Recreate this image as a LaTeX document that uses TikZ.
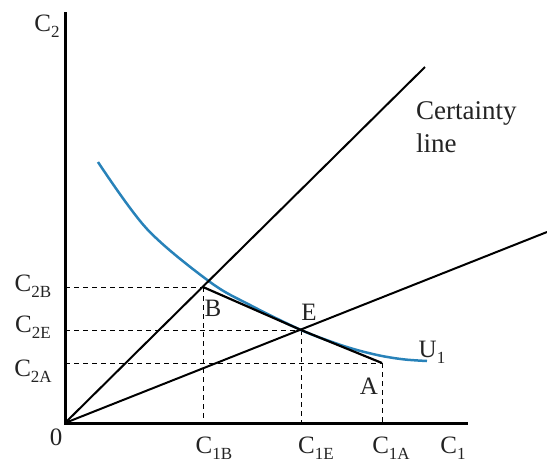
\documentclass[tikz,border=0pt]{standalone}
\usepackage{fontspec}
\setmainfont{Liberation Serif}
\definecolor{ucurve}{RGB}{40,130,185}
\definecolor{txt}{RGB}{35,35,35}
\newcommand{\mainsz}{\fontsize{25}{31}\selectfont}
\newcommand{\certsz}{\fontsize{27}{33}\selectfont}
\newcommand{\subsz}{\fontsize{17}{17}\selectfont}
\newcommand{\lab}[2]{{\mainsz #1}\raisebox{-6pt}{\subsz #2}}
\begin{document}
\begin{tikzpicture}[x=1pt,y=-1pt,
  axis/.style={line width=3pt},
  ray/.style={line width=2pt},
  guide/.style={line width=0.8pt, dash pattern=on 5pt off 4pt},
  budget/.style={line width=2.2pt},
  indiff/.style={line width=2.5pt, ucurve},
  txtlab/.style={inner sep=0pt, text=txt, font=\mainsz}]
\useasboundingbox (0,0) rectangle (547,464);
% key points
\coordinate (O) at (65,423);
\coordinate (ytop) at (65,12);
\coordinate (xend) at (468,423);
\coordinate (cert) at (425,67);
\coordinate (low) at (547,232);
\coordinate (B) at (203,287);
\coordinate (E) at (301,330);
\coordinate (A) at (382,363);
\coordinate (yB) at (65,287);
\coordinate (yE) at (65,330);
\coordinate (yA) at (65,363);
\coordinate (xB) at (203,423);
\coordinate (xE) at (301,423);
\coordinate (xA) at (382,423);
% dashed guides
\draw[guide] (yB) -- (B);
\draw[guide] (yE) -- (E);
\draw[guide] (yA) -- (A);
\draw[guide] (B) -- (xB);
\draw[guide] (E) -- (xE);
\draw[guide] (A) -- (xA);
% indifference curve
\draw[indiff] plot[smooth, tension=0.55] coordinates {(98,162) (147,229) (210,282) (250,305) (301,330) (335,343) (357,350) (382,356) (405,359.5) (427,361)};
% rays
\draw[ray] (O) -- (cert);
\draw[ray] (O) -- (low);
% budget line
\draw[budget] (B) -- (E) -- (A);
% axes
\draw[axis] (ytop) -- (O) -- (xend);
% labels
\node[txtlab] (lC2) at (47,26) {\lab{C}{2}};
\node[txtlab] (lC2B) at (33,286) {\lab{C}{2B}};
\node[txtlab] (lC2E) at (33,327) {\lab{C}{2E}};
\node[txtlab] (lC2A) at (33,371) {\lab{C}{2A}};
\node[txtlab] (l0) at (56,437) {0};
\node[txtlab] (lC1B) at (214,448) {\lab{C}{1B}};
\node[txtlab] (lC1E) at (316,448) {\lab{C}{1E}};
\node[txtlab] (lC1A) at (391,448) {\lab{C}{1A}};
\node[txtlab] (lC1) at (453,448) {\lab{C}{1}};
\node[txtlab] (lB) at (213,308) {B};
\node[txtlab] (lE) at (309,312) {E};
\node[txtlab] (lA) at (369,386) {A};
\node[txtlab] (lU) at (432,352) {\lab{U}{1}};
\node[txtlab, font=\certsz, anchor=north west, align=left] (lcert) at (416,101) {Certainty\\line};
\end{tikzpicture}
\end{document}
